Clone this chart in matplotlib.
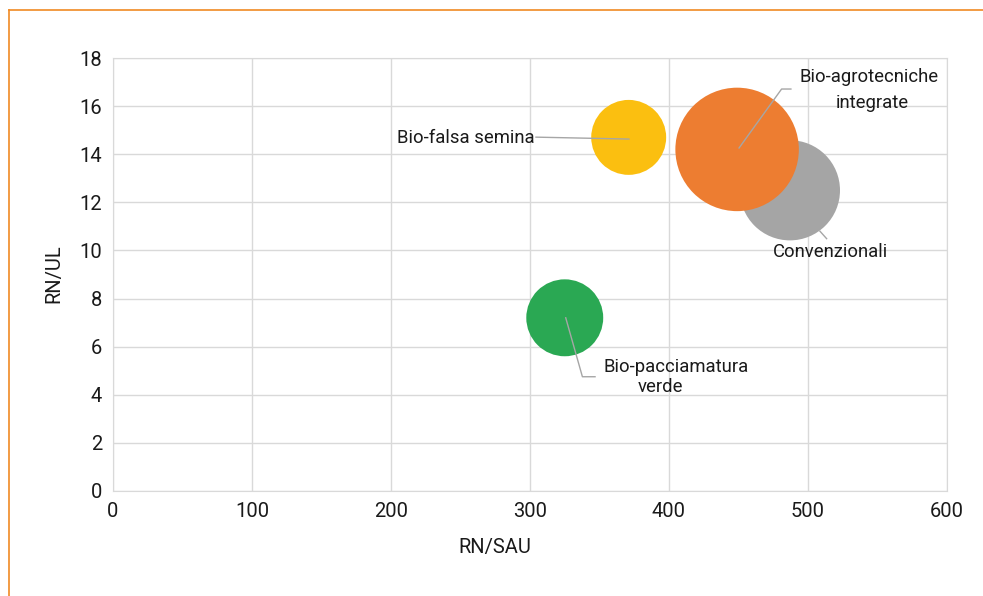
import numpy as np
import matplotlib.pyplot as plt
from matplotlib.lines import Line2D

plt.rcParams['font.family'] = ['Roboto', 'DejaVu Sans']

# bubble data: RN/SAU, RN/UL and bubble weight
names = ['Convenzionali', 'Bio-agrotecniche\nintegrate', 'Bio-falsa semina', 'Bio-pacciamatura\nverde']
rn_sau = [487, 449, 371, 325]
rn_ul = [12.5, 14.2, 14.7, 7.2]
weight = [100, 152, 56, 59]
colors = ['#a5a5a5', '#ed7d31', '#fbbf10', '#2aa853']

W, H = 983, 596
fig = plt.figure(figsize=(W / 100, H / 100), dpi=100)
ax = fig.add_axes([113 / W, 1 - 491 / H, (947 - 113) / W, (491 - 58) / H])

# bubble area proportional to weight
s = np.array(weight) * 52.0
ax.scatter(rn_sau, rn_ul, s=s, c=colors, linewidths=0, zorder=3)

ax.set_xlim(0, 600)
ax.set_ylim(0, 18)
ax.set_xticks(range(0, 601, 100))
ax.set_yticks(range(0, 19, 2))
ax.grid(True, color='#d9d9d9', linewidth=1)
ax.set_axisbelow(True)
for sp in ax.spines.values():
    sp.set_color('#d9d9d9')
ax.tick_params(length=0, labelsize=14.5, colors='#1a1a1a', pad=8)

tc = '#1a1a1a'
lc = '#a6a6a6'
fs = 13.3

# data labels with leader lines
ax.plot([304.3, 371.2], [14.71, 14.63], color=lc, lw=1, zorder=4)
ax.text(303, 14.67, 'Bio-falsa semina', ha='right', va='center', fontsize=fs, color=tc)

ax.plot([450.4, 481, 487.7], [14.26, 16.71, 16.71], color=lc, lw=1, zorder=4)
ax.text(544, 17.2, 'Bio-agrotecniche', ha='center', va='center', fontsize=fs, color=tc)
ax.text(546, 16.13, 'integrate', ha='center', va='center', fontsize=fs, color=tc)

ax.plot([508.6, 513.4], [10.8, 10.49], color=lc, lw=1, zorder=4)
ax.text(516.5, 9.95, 'Convenzionali', ha='center', va='center', fontsize=fs, color=tc)

ax.plot([325.7, 337.7, 346.8], [7.2, 4.75, 4.75], color=lc, lw=1, zorder=4)
ax.text(405, 5.17, 'Bio-pacciamatura', ha='center', va='center', fontsize=fs, color=tc)
ax.text(393.5, 4.32, 'verde', ha='center', va='center', fontsize=fs, color=tc)

fig.text(54 / W, 1 - 274 / H, 'RN/UL', rotation=90, ha='center', va='center',
         fontsize=14.5, color=tc)
fig.text(495 / W, 1 - 548 / H, 'RN/SAU', ha='center', va='center',
         fontsize=14.5, color=tc)

# orange frame on top and left
fig.add_artist(Line2D([8.5 / W, 1], [1 - 9.5 / H, 1 - 9.5 / H], color='#f08a24', lw=1.2,
                      transform=fig.transFigure))
fig.add_artist(Line2D([8.5 / W, 8.5 / W], [0, 1 - 9.5 / H], color='#f08a24', lw=1.2,
                      transform=fig.transFigure))

fig.savefig('out.png', dpi=100)
